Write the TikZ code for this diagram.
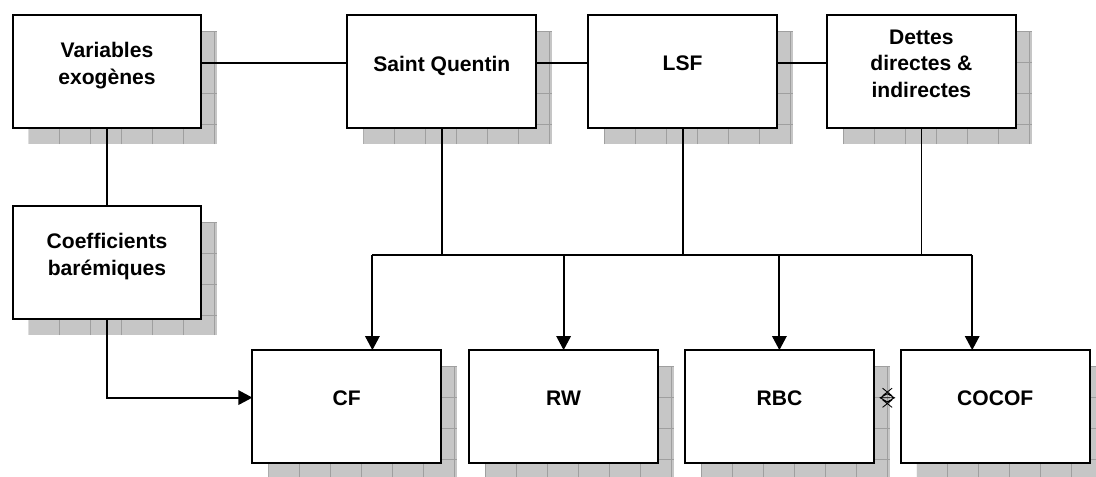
\documentclass[tikz,border=0pt]{standalone}
\usepackage{fontspec}
\setmainfont{Liberation Sans}
\usetikzlibrary{positioning,arrows.meta,backgrounds,calc}

\begin{document}
\begin{tikzpicture}[
  node distance=0.7cm and 1.3cm,
  box/.style={draw, line width=1.3pt, fill=white, minimum width=4.72cm, minimum height=2.825cm, inner sep=0pt, outer sep=0pt, text depth=0.4cm, font=\bfseries\fontsize{15}{19}\selectfont, align=center},
  link/.style={line width=1.3pt},
  arrow/.style={-{Triangle[length=0.35cm, width=0.36cm]}, line width=1.3pt},
  shade/.style={fill=gray!45},
  shadegrid/.style={draw=gray!75, line width=0.5pt}
]
  \useasboundingbox (0,0) rectangle (27.4,-11.925);
  % top row
  \node[box] (var) at (2.675,-1.79) {Variables\\exogènes};
  \node[box, right=3.65cm of var] (sq) {Saint Quentin};
  \node[box, right=1.3cm of sq] (lsf) {LSF};
  \node[box, right=1.25cm of lsf] (dettes) {Dettes\\directes \&\\indirectes};
  \node[box, below=1.95cm of var] (coef) {Coefficients\\barémiques};
  % bottom row
  \node[box, below right=0.775cm and 1.275cm of coef] (cf) {CF};
  \node[box, right=0.7cm of cf] (rw) {RW};
  \node[box, right=0.675cm of rw] (rbc) {RBC};
  \node[box, right=0.675cm of rbc] (cocof) {COCOF};
  % shadows
  \begin{scope}[on background layer]
    \foreach \n in {var,sq,lsf,dettes,coef,cf,rw,rbc,cocof} {
      \begin{scope}[shift={([shift={(0.4cm,-0.4cm)}]\n.north west)}]
        \fill[shade] (0,0) rectangle (4.72,-2.825);
        \clip (0,0) rectangle (4.72,-2.825);
        \draw[shadegrid, step=0.775cm] (0,0) grid (4.72,-2.825);
      \end{scope}
    }
  \end{scope}
  \draw[link] ([yshift=0.21cm]var.east) -- ([yshift=0.21cm]sq.west);
  \draw[link] ([yshift=0.21cm]sq.east) -- ([yshift=0.21cm]lsf.west);
  \draw[link] ([yshift=0.21cm]lsf.east) -- ([yshift=0.21cm]dettes.west);
  \draw[link] (var) -- (coef);
  \draw[arrow] (coef.south) |- ([yshift=0.225cm]cf.west);
  % bus
  \coordinate[below=3.175cm of sq.south] (bus);
  \coordinate (cfin) at ([xshift=0.64cm]cf.north);
  \coordinate (cocofin) at ([xshift=-0.575cm]cocof.north);
  \foreach \n in {sq,lsf,dettes}
    \draw[link] (\n.south) -- (\n.south |- bus);
  \draw[link] (bus -| cfin) -- (bus -| cocofin);
  \foreach \t in {cfin,rw.north,rbc.north,cocofin}
    \draw[arrow] (bus -| \t) -- (\t);
  % mark between RBC and COCOF
  \coordinate (mark) at ($(rbc.east)!0.5!(cocof.west)+(0,0.22)$);
  \draw[line width=0.6pt, shift={(mark)}]
    (-0.12,0.24) -- (0.12,0.05) (0.12,0.24) -- (-0.12,0.05)
    (-0.12,-0.24) -- (0.12,-0.05) (0.12,-0.24) -- (-0.12,-0.05)
    (-0.18,0) -- (0,0.1) -- (0.18,0) -- (0,-0.1) -- cycle (-0.18,0) -- (0.18,0);
\end{tikzpicture}
\end{document}
